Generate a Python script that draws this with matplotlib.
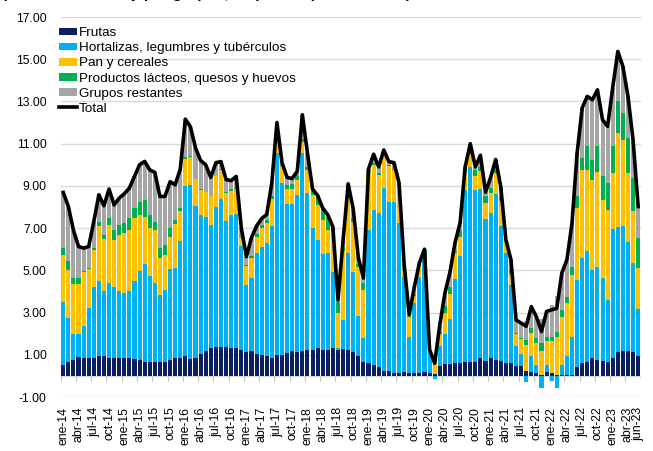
import numpy as np
import matplotlib.pyplot as plt
from matplotlib.ticker import FormatStrFormatter

# meses ene-14 ... jun-23
MESES = ["ene", "feb", "mar", "abr", "may", "jun", "jul", "ago", "sep", "oct", "nov", "dic"]
periodos = [f"{m}-{a % 100:02d}" for a in range(2014, 2024) for m in MESES][:114]

# incidencias por grupo (puntos porcentuales)
frutas = [
    .52, .65, .73, .88, .84, .84, .87, .92, .95, .84,
    .84, .84, .87, .84, .79, .76, .68, .68, .68, .68,
    .65, .76, .87, .87, .92, .80, .85, 1.05, 1.20, 1.30,
    1.35, 1.35, 1.38, 1.32, 1.30, 1.25, 1.15, 1.20, 1.05, 1.00,
    .95, .85, 1.00, 1.00, 1.10, 1.20, 1.15, 1.20, 1.25, 1.23,
    1.30, 1.25, 1.23, 1.31, 1.23, 1.28, 1.23, 1.15, .92, .68,
    .60, .52, .44, .25, .25, .16, .16, .20, .16, .13,
    .16, .20, .12, .10, .45, .55, .55, .60, .60, .65,
    .65, .65, .85, .70, .85, .75, .70, .60, .60, .45,
    .45, .25, .20, .15, .05, .20, .12, .05, .05, .05,
    .05, .44, .60, .68, .84, .76, .71, .68, .84, 1.15,
    1.20, 1.20, 1.15, .92,
]
hortalizas = [
    3.00, 2.11, 1.26, 1.11, 1.53, 2.37, 3.32, 3.58, 3.09, 3.55,
    3.36, 3.20, 3.08, 3.16, 3.71, 4.22, 4.63, 4.06, 3.71, 3.13,
    3.43, 4.30, 4.23, 5.50, 8.08, 8.25, 7.21, 6.58, 6.35, 5.86,
    6.65, 7.04, 5.98, 6.31, 6.38, 4.88, 3.15, 3.45, 4.79, 5.10,
    5.34, 6.23, 9.55, 8.13, 7.05, 6.95, 7.43, 9.35, 7.41, 5.77,
    5.15, 4.53, 4.58, 3.63, .07, 1.37, 4.58, 3.79, 1.92, 1.11,
    6.32, 7.35, 7.27, 8.65, 8.01, 8.10, 7.08, 4.50, 1.70, 3.31,
    4.54, 5.30, 1.00, -.15, .95, 1.45, 2.15, 4.00, 5.10, 8.15,
    9.25, 8.15, 8.00, 6.75, 6.85, 7.85, 6.40, 5.20, 3.70, .95,
    .60, -.27, .72, .35, -.58, .32, -.22, -.58, .47, .87,
    1.81, 4.11, 4.98, 5.22, 4.18, 4.42, 3.92, 2.92, 6.11, 5.90,
    5.90, 5.15, 4.20, 2.23,
]
pan = [
    2.21, 2.26, 2.35, 2.35, 2.53, 1.85, 1.78, 2.58, 2.44, 2.77,
    2.25, 2.64, 2.81, 2.92, 2.97, 2.65, 2.24, 2.26, 2.53, 1.77,
    1.65, 1.54, 2.10, 1.42, 1.27, 1.31, 1.28, 1.19, 1.15, 1.34,
    1.45, 1.37, 1.29, 1.15, 1.17, .47, .90, .95, .76, .90,
    .95, 1.32, .55, .79, .70, .70, .71, .55, 1.10, 1.58,
    1.65, 1.62, 1.11, 1.91, 1.67, 3.25, 2.69, 2.36, 2.34, 2.29,
    2.68, 2.13, 1.82, 1.50, 1.66, 1.50, 1.76, .30, .95, .36,
    .50, .10, .10, .50, .60, 1.00, 1.20, 1.20, .90, .80,
    .60, .65, .85, .75, .95, 1.00, 1.20, .60, .55, .60,
    .70, 1.20, 1.10, 1.05, 1.15, 1.11, 1.51, 1.81, 2.29, 2.52,
    2.93, 3.40, 4.18, 3.86, 4.27, 4.50, 3.71, 4.27, 2.65, 4.45,
    4.08, 3.25, 2.44, 1.95,
]
lacteos = [
    .35, .40, .32, .32, .06, .04, .08, .23, .20, .31,
    .44, .48, .48, .55, .48, .63, .79, .63, .39, .47,
    .48, .40, .20, .16, .09, .04, .00, .03, .02, .02,
    .02, .05, .05, .07, .05, .02, .03, .10, .10, .15,
    .16, .10, .10, .08, .20, .23, .24, .10, .14, .22,
    .40, .50, .55, .10, .55, .15, .15, .20, .10, .31,
    .05, .10, .10, .10, .05, .05, .05, .05, .03, .05,
    .05, .35, .00, .05, .10, .30, .30, .10, .30, .05,
    .10, .30, .20, .30, .25, .15, .20, .02, .15, .05,
    .05, .25, .24, .23, .35, .23, .23, .24, .32, .32,
    .36, .55, .54, 1.11, .95, 1.19, 1.11, 1.26, 1.27, 1.50,
    1.27, 1.66, 1.58, 1.42,
]
restantes = [
    2.61, 2.61, 2.24, 1.47, 1.09, 1.03, 1.25, 1.27, 1.38, 1.38,
    1.21, 1.26, 1.39, 1.43, 1.50, 1.74, 1.82, 2.13, 2.33, 2.45,
    2.29, 2.20, 1.65, 1.85, 1.80, 1.40, 1.46, 1.35, 1.28, .88,
    .63, .34, .60, .40, .55, .38, .42, .85, .40, .30,
    .25, .65, .80, .10, .35, .27, .17, 1.17, .65, .05,
    .05, .05, .16, .10, .08, .35, .45, .40, .32, .24,
    .15, .40, .27, .20, .18, .29, .10, .25, .06, .35,
    .10, .05, .03, .10, .30, .60, .70, .40, .35, .25,
    .40, .15, .55, .20, .50, .50, .45, .03, .50, .60,
    .70, .92, 1.02, 1.02, 1.13, 1.19, 1.49, 1.68, 1.74, 1.74,
    2.09, 2.05, 2.40, 2.37, 2.84, 2.68, 2.68, 2.69, 2.78, 2.37,
    2.21, 1.98, 1.81, 1.50,
]
total = [
    8.69, 8.03, 6.90, 6.13, 6.05, 6.13, 7.30, 8.58, 8.06, 8.85,
    8.10, 8.42, 8.63, 8.90, 9.45, 10.00, 10.16, 9.76, 9.64, 8.50,
    8.50, 9.20, 9.05, 9.80, 12.16, 11.80, 10.80, 10.20, 10.00, 9.40,
    10.10, 10.15, 9.30, 9.25, 9.45, 7.00, 5.65, 6.55, 7.10, 7.45,
    7.65, 9.15, 12.00, 10.10, 9.40, 9.35, 9.70, 12.37, 10.55, 8.85,
    8.55, 7.95, 7.63, 7.05, 3.60, 6.40, 9.10, 7.90, 5.60, 4.63,
    9.80, 10.50, 9.90, 10.70, 10.15, 10.10, 9.15, 5.30, 2.90, 4.20,
    5.35, 6.00, 1.25, 0.60, 2.40, 3.90, 4.90, 6.30, 7.25, 9.90,
    11.00, 9.90, 10.45, 8.70, 9.40, 10.25, 8.95, 6.45, 5.50, 2.65,
    2.50, 2.35, 3.28, 2.80, 2.10, 3.05, 3.13, 3.20, 4.87, 5.50,
    7.24, 10.55, 12.70, 13.24, 13.08, 13.55, 12.13, 11.82, 13.65, 15.37,
    14.66, 13.24, 11.18, 8.02,
]

series = [
    ("Frutas", frutas, "#0B1F5E"),
    ("Hortalizas, legumbres y tubérculos", hortalizas, "#00B0F0"),
    ("Pan y cereales", pan, "#FFC000"),
    ("Productos lácteos, quesos y huevos", lacteos, "#00B050"),
    ("Grupos restantes", restantes, "#A6A6A6"),
]

plt.rcParams["font.family"] = ["Liberation Sans", "DejaVu Sans"]
FS = 8.8

fig = plt.figure(figsize=(6.53, 4.51), dpi=100)
ax = fig.add_axes([60.7 / 653, 54 / 451, 580 / 653, 380 / 451])

x = np.arange(len(periodos))
pos = np.zeros(len(x))
neg = np.zeros(len(x))
handles = []
for name, vals, color in series:
    v = np.asarray(vals, dtype=float)
    bottom = np.where(v >= 0, pos, neg)
    h = ax.bar(x, v, width=0.8, bottom=bottom, color=color, label=name,
               linewidth=0, zorder=2)
    handles.append(h)
    pos += np.where(v >= 0, v, 0)
    neg += np.where(v < 0, v, 0)
ln, = ax.plot(x, total, color="black", lw=2.6, label="Total", zorder=3)
handles.append(ln)

# ejes
ax.set_xlim(-0.5, len(x) - 0.5)
ax.set_ylim(-1, 17)
ax.set_yticks(np.arange(-1, 18, 2))
ax.yaxis.set_major_formatter(FormatStrFormatter("%.2f"))
ax.yaxis.grid(True, color="#D9D9D9", lw=1)
ax.set_axisbelow(True)
for s in ax.spines.values():
    s.set_visible(False)
ax.axhline(0, color="#D9D9D9", lw=1, zorder=1)
ax.vlines(np.arange(-0.5, len(x), 3), -0.25, 0, color="#BFBFBF", lw=0.8, zorder=1)

idx = list(range(0, 112, 3)) + [len(x) - 1]
ax.set_xticks(idx)
ax.set_xticklabels([periodos[i] for i in idx], rotation=90)
ax.tick_params(axis="x", length=0, pad=7, labelsize=FS)
ax.tick_params(axis="y", length=0, pad=10, labelsize=FS)

ax.legend(handles=handles, loc="upper left", bbox_to_anchor=(-0.003, 0.973),
          frameon=False, fontsize=9.7, handlelength=1.35, handleheight=0.5,
          handletextpad=0.12, labelspacing=0.23, borderpad=0, borderaxespad=0)

# titulo (cortado en la parte superior de la imagen)
fig.text(0.003, 1 + 1.5 / 451, "(Incidencia anual y por grupos, en puntos porcentuales)",
         fontsize=11, fontweight="bold", va="baseline", ha="left")

fig.savefig("out.png", dpi=100)
